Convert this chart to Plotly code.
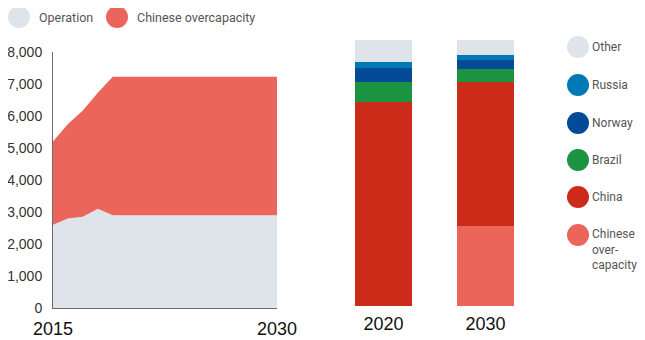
import plotly.graph_objects as go

# ---------------- data ----------------
years = [2015, 2016, 2017, 2018, 2019, 2020, 2021, 2022, 2023, 2024, 2025, 2026, 2027, 2028, 2029, 2030]
operation = [2600, 2800, 2850, 3100, 2900, 2900, 2900, 2900, 2900, 2900, 2900, 2900, 2900, 2900, 2900, 2900]
chinese_overcapacity = [2600, 2950, 3320, 3630, 4330, 4330, 4330, 4330, 4330, 4330, 4330, 4330, 4330, 4330, 4330, 4330]
area_names = ["Operation", "Chinese overcapacity"]
year_ticks = [2015, 2030]
y_ticks = [0, 1000, 2000, 3000, 4000, 5000, 6000, 7000, 8000]

bar_years = ["2020", "2030"]
share_overcapacity = [0, 30.1]
share_china = [76.8, 54.1]
share_brazil = [7.3, 4.9]
share_norway = [5.3, 3.4]
share_russia = [2.3, 1.9]
share_other = [8.3, 5.6]
bar_names = ["Other", "Russia", "Norway", "Brazil", "China", "Chinese<br>over-<br>capacity"]

# ---------------- style ----------------
C_OPER = "#dfe3ea"
C_OVER = "#ec655a"
C_CHINA = "#cc2b19"
C_BRAZIL = "#1b9340"
C_NORWAY = "#044b97"
C_RUSSIA = "#0279b5"
C_OTHER = "#dfe3ea"
# the page body adds an 8px offset; keep the figure inside the 645x340 window
OX, OY = 8, 8
W, H = 637, 332
LEGF = "Roboto, Lato, sans-serif"
NUMF = "Liberation Sans, Arial, sans-serif"


def fx(px):
    return (px - OX) / W


def fy(py):
    return 1 - (py - OY) / H


fig = go.Figure()

# stacked area
fig.add_trace(go.Scatter(x=years, y=operation, name=area_names[0], stackgroup="a",
                         mode="none", fillcolor=C_OPER, line=dict(width=0),
                         xaxis="x", yaxis="y", showlegend=False))
fig.add_trace(go.Scatter(x=years, y=chinese_overcapacity, name=area_names[1], stackgroup="a",
                         mode="none", fillcolor=C_OVER, line=dict(width=0),
                         xaxis="x", yaxis="y", showlegend=False))

# stacked bars (bottom first)
bar_series = [
    (share_overcapacity, C_OVER, "Chinese overcapacity"),
    (share_china, C_CHINA, "China"),
    (share_brazil, C_BRAZIL, "Brazil"),
    (share_norway, C_NORWAY, "Norway"),
    (share_russia, C_RUSSIA, "Russia"),
    (share_other, C_OTHER, "Other"),
]
for vals, col, nm in bar_series:
    fig.add_trace(go.Bar(x=bar_years, y=vals, name=nm, marker=dict(color=col, line=dict(width=0)),
                         xaxis="x2", yaxis="y2", showlegend=False))

shapes = []
annotations = []


def legend_item(px, py, color, text, tx, size):
    shapes.append(dict(type="circle", xref="paper", yref="paper",
                       xsizemode="pixel", ysizemode="pixel",
                       xanchor=fx(px), yanchor=fy(py),
                       x0=-11, x1=11, y0=-11, y1=11,
                       fillcolor=color, line=dict(width=0)))
    annotations.append(dict(xref="paper", yref="paper", x=fx(tx), y=fy(py),
                            text=text, showarrow=False, xanchor="left", yanchor="middle",
                            align="left", font=dict(family=LEGF, size=size, color="#555555")))


# top legend
legend_item(19, 17, C_OPER, area_names[0], 37, 12.5)
legend_item(117, 17, C_OVER, area_names[1], 135, 12.5)

# right legend
right_cols = [C_OTHER, C_RUSSIA, C_NORWAY, C_BRAZIL, C_CHINA, C_OVER]
right_y = [47, 85, 123, 160, 197, 235]
for nm, col, yy in zip(bar_names, right_cols, right_y):
    legend_item(578, yy, col, nm, 590, 12)
# multi-line label starts at the circle's line
annotations[-1]["yanchor"] = "top"
annotations[-1]["y"] = fy(225)

fig.update_layout(
    width=W, height=H,
    margin=dict(l=0, r=0, t=0, b=0, autoexpand=False),
    paper_bgcolor="white", plot_bgcolor="white",
    barmode="stack", bargap=0.44,
    showlegend=False,
    shapes=shapes, annotations=annotations,
    xaxis=dict(domain=[fx(53), fx(277)], range=[2015, 2030], tickvals=year_ticks,
               automargin=False,
               showgrid=False, zeroline=False, showline=True, linecolor="#6b6b6b", linewidth=1,
               ticks="", tickfont=dict(family=NUMF, size=18, color="#111111"),
               ticklabelstandoff=4),
    yaxis=dict(domain=[fy(308), fy(52)], range=[0, 8000], tickvals=y_ticks,
               automargin=False,
               tickformat=",", showgrid=False, zeroline=False, showline=True,
               linecolor="#6b6b6b", linewidth=1, ticks="",
               tickfont=dict(family=NUMF, size=14, color="#333333"),
               ticklabelstandoff=7),
    xaxis2=dict(domain=[fx(332.5), fx(536.5)], type="category", anchor="y2",
                automargin=False,
                showgrid=False, zeroline=False, showline=False, ticks="",
                tickfont=dict(family=NUMF, size=18, color="#111111"),
                ticklabelstandoff=5),
    yaxis2=dict(domain=[fy(306), fy(40)], range=[0, 100], visible=False, anchor="x2",
                automargin=False),
)

fig.write_html("out.html")
